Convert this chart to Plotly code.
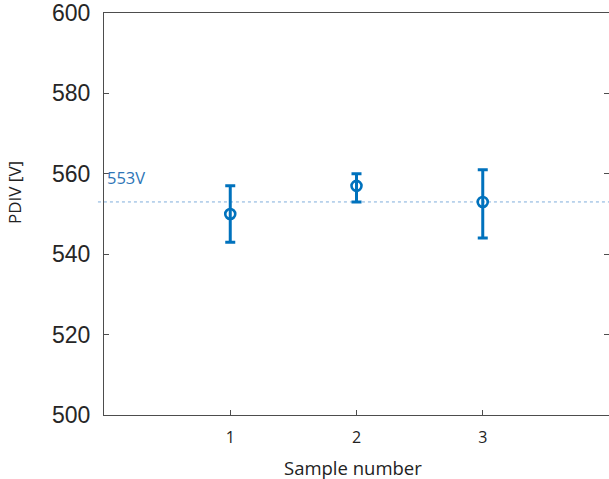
import plotly.graph_objects as go

samples = [1, 2, 3]
pdiv_mean = [550, 557, 553]
err_upper = [557, 560, 561]
err_lower = [543, 553, 544]
mean_line = 553
mean_label = "553V"
y_ticks = [500, 520, 540, 560, 580, 600]
x_ticks = [1, 2, 3]

err_plus = [u - m for u, m in zip(err_upper, pdiv_mean)]
err_minus = [m - l for m, l in zip(pdiv_mean, err_lower)]

blue = "#0072BD"
W, H = 609, 479
L, R, T, B = 104, 0, 13, 64

fig = go.Figure()
fig.add_trace(go.Scatter(
    x=samples, y=pdiv_mean, mode="markers",
    marker=dict(symbol="circle-open", size=10, color=blue, line=dict(width=2.6, color=blue)),
    error_y=dict(type="data", symmetric=False, array=err_plus, arrayminus=err_minus,
                 color=blue, thickness=3, width=5),
    showlegend=False,
))

fig.add_shape(type="line", xref="paper", yref="y", x0=-0.012, x1=1, y0=mean_line, y1=mean_line,
              line=dict(color="#7FADDB", width=1, dash="3px,3px"), layer="below")
fig.add_annotation(x=0, y=559.1, xref="x", yref="y", text=mean_label, showarrow=False,
                   xanchor="left", yanchor="middle", xshift=1,
                   font=dict(family="Open Sans, Liberation Sans", size=16.5, color="#2E75B6"))

pw, ph = W - L - R, H - T - B
# axis titles positioned as annotations (paper coords)
fig.add_annotation(x=(15 - L) / pw, y=(H - B - 193) / ph, xref="paper", yref="paper",
                   text="PDIV [V]", showarrow=False, textangle=-90,
                   xanchor="center", yanchor="middle",
                   font=dict(family="Open Sans, Liberation Sans", size=17, color="#222"))
fig.add_annotation(x=(353 - L) / pw, y=(H - B - 467) / ph, xref="paper", yref="paper",
                   text="Sample number", showarrow=False,
                   xanchor="center", yanchor="middle",
                   font=dict(family="Open Sans, Liberation Sans", size=18.5, color="#222"))

fig.update_layout(
    width=W, height=H,
    margin=dict(l=L, r=R, t=T, b=B),
    paper_bgcolor="white", plot_bgcolor="white",
    xaxis=dict(range=[0, 4], tickvals=x_ticks, ticktext=[str(v) for v in x_ticks],
               ticks="inside", ticklen=5, tickcolor="#4d4d4d", showline=True, linecolor="#4d4d4d",
               linewidth=1, mirror=True, showgrid=False, zeroline=False,
               ticklabelstandoff=8,
               tickfont=dict(family="Open Sans, Liberation Sans", size=16, color="#222")),
    yaxis=dict(range=[500, 600], tickvals=y_ticks,
               ticks="inside", ticklen=5, tickcolor="#4d4d4d", showline=True, linecolor="#4d4d4d",
               linewidth=1, mirror="ticks", showgrid=False, zeroline=False,
               ticklabelstandoff=8,
               tickfont=dict(family="Liberation Sans, Arial", size=23, color="#262626")),
)

fig.write_html("out.html", config={"displayModeBar": False},
               post_script="document.body.style.margin='0';")
